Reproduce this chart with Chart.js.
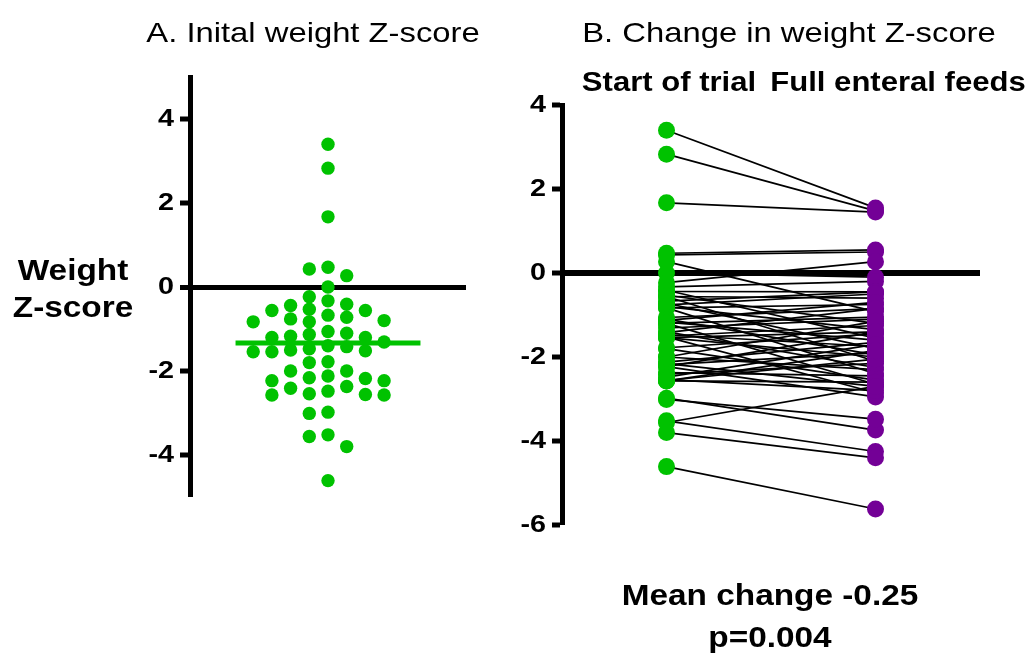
<!DOCTYPE html>
<html>
<head>
<meta charset="utf-8">
<script src="https://cdn.jsdelivr.net/npm/chart.js@4.4.1/dist/chart.umd.min.js"></script>
<style>
    body { margin: 0; background: #fff; width: 1035px; height: 660px; overflow: hidden; position: relative;
           font-family: "Liberation Sans", Arial, sans-serif; }
    canvas { position: absolute; top: 0; }
    #chartA { left: 0; }
    #chartB { left: 480px; }
    .lbl { position: absolute; white-space: nowrap; line-height: 1; color: #000;
           transform: translate(-50%, -50%) scaleX(1.15); }
    .title { font-size: 28.5px; }
    .bold { font-weight: bold; font-size: 29px; }
    .col { font-weight: bold; font-size: 27px; }
</style>
</head>
<body>
<canvas id="chartA" width="480" height="660"></canvas>
<canvas id="chartB" width="555" height="660"></canvas>

<div class="lbl title" style="left:313px; top:32px;">A. Inital weight Z-score</div>
<div class="lbl title" style="left:789px; top:32px;">B. Change in weight Z-score</div>
<div class="lbl bold" style="left:73px; top:270px;">Weight</div>
<div class="lbl bold" style="left:73px; top:307px;">Z-score</div>
<div class="lbl col" style="left:669px; top:82px;">Start of trial</div>
<div class="lbl col" style="left:898px; top:82px;">Full enteral feeds</div>
<div class="lbl bold" style="left:770px; top:595px;">Mean change -0.25</div>
<div class="lbl bold" style="left:770px; top:637px;">p=0.004</div>

<script>
// Weight Z-score of each infant at the start of the trial
const initialZ = [3.40, 2.83, 1.67, 0.47, 0.43, 0.27, 0.00, -0.23, -0.33, -0.41, -0.44, -0.53, -0.56, -0.56,
    -0.67, -0.72, -0.76, -0.80, -0.83, -0.83, -1.06, -1.10, -1.13, -1.17, -1.20, -1.20, -1.31, -1.40,
    -1.42, -1.47, -1.50, -1.52, -1.54, -1.54, -1.78, -1.80, -2.00, -2.00, -2.12, -2.16, -2.18, -2.23,
    -2.23, -2.37, -2.41, -2.48, -2.54, -2.56, -2.57, -2.57, -2.98, -3.01, -3.52, -3.56, -3.80, -4.61];
// Same infants at full enteral feeds (same order)
const fullFeedsZ = [1.55, 1.48, 1.45, 0.55, 0.50, -0.92, -0.10, 0.27, -0.20, -1.55, -0.45, -1.20, -0.60, -2.10,
    -0.45, -1.80, -0.50, -1.35, -0.75, -2.40, -0.85, -1.95, -0.70, -1.60, -1.05, -2.65, -1.10, -2.25,
    -0.85, -1.75, -1.25, -2.85, -1.40, -2.00, -1.45, -2.55, -1.15, -2.30, -1.65, -2.70, -1.90, -2.95,
    -1.40, -2.45, -2.15, -1.70, -2.80, -2.05, -2.60, -1.85, -3.74, -3.48, -4.25, -2.70, -4.40, -5.62];
const ticksA = [-4, -2, 0, 2, 4];
const ticksB = [-6, -4, -2, 0, 2, 4];

const GREEN = '#00c200';
const PURPLE = '#730096';
const TICK_STRETCH = 1.25;   // numbers in the original are drawn wide

// simple beeswarm: columns of dots, one column step at a time
function beeswarm(values, pxPerUnit, gapPx) {
    const cols = {};
    return values.map(v => {
        for (let k = 0; ; k++) {
            const off = k === 0 ? 0 : (k % 2 ? -(k + 1) / 2 : k / 2);
            const list = cols[off] || (cols[off] = []);
            if (list.every(u => Math.abs(u - v) * pxPerUnit >= gapPx)) {
                list.push(v);
                return off;
            }
        }
    });
}

const stretchedTicks = {
    id: 'stretchedTicks',
    afterDraw(chart) {
        const s = chart.scales.y;
        const ctx = chart.ctx;
        ctx.save();
        ctx.font = 'bold 23px "Liberation Sans", Arial, sans-serif';
        ctx.fillStyle = '#000';
        ctx.textAlign = 'right';
        ctx.textBaseline = 'middle';
        s.ticks.forEach(t => {
            ctx.save();
            ctx.translate(s.right - 16, s.getPixelForValue(t.value) + 1);
            ctx.scale(TICK_STRETCH, 1);
            ctx.fillText(String(t.value), 0, 0);
            ctx.restore();
        });
        ctx.restore();
    }
};

function yAxis(min, max, tickValues, width, zeroWidth) {
    return {
        min: min, max: max,
        afterBuildTicks: s => { s.ticks = tickValues.map(v => ({ value: v })); },
        afterFit: s => { s.width = width; },
        ticks: { color: 'rgba(0,0,0,0)', padding: 7, font: { size: 22, weight: 'bold' } },
        grid: {
            drawOnChartArea: true, drawTicks: true, tickLength: 10, tickWidth: 5, tickColor: '#000',
            color: c => (c.tick && c.tick.value === 0 ? '#000' : 'rgba(0,0,0,0)'),
            lineWidth: c => (c.tick && c.tick.value === 0 ? zeroWidth : 0)
        },
        border: { display: true, width: 5, color: '#000' }
    };
}

const baseOptions = {
    responsive: false,
    animation: false,
    events: [],
    plugins: { legend: { display: false }, tooltip: { enabled: false } }
};

// Panel A
const colStep = 18.7 / 138;  // one beeswarm column in x units
const offsets = beeswarm(initialZ, 42, 12.5);
const meanA = initialZ.reduce((a, b) => a + b, 0) / initialZ.length;

new Chart(document.getElementById('chartA'), {
    type: 'scatter',
    data: {
        datasets: [
            {
                data: [{ x: -0.67, y: meanA }, { x: 0.67, y: meanA }],
                showLine: true, borderColor: GREEN, borderWidth: 5, pointRadius: 0, order: 0
            },
            {
                data: initialZ.map((v, i) => ({ x: offsets[i] * colStep, y: v })),
                backgroundColor: GREEN, borderWidth: 0, pointRadius: 6.7, order: 1
            }
        ]
    },
    options: Object.assign({}, baseOptions, {
        layout: { padding: { top: 77, bottom: 163, left: 0, right: 14 } },
        scales: {
            x: { type: 'linear', min: -1, max: 1, display: false },
            y: yAxis(-5, 5, ticksA, 190, 5)
        }
    }),
    plugins: [stretchedTicks]
});

// Panel B
const pairLines = initialZ.map((v, i) => ({
    data: [{ x: 0, y: v }, { x: 1, y: fullFeedsZ[i] }],
    showLine: true, borderColor: '#000', borderWidth: 1.7, pointRadius: 0, order: 2
}));

new Chart(document.getElementById('chartB'), {
    type: 'scatter',
    data: {
        datasets: [
            { data: initialZ.map(v => ({ x: 0, y: v })), backgroundColor: GREEN, borderWidth: 0, pointRadius: 8.5, order: 0 },
            { data: fullFeedsZ.map(v => ({ x: 1, y: v })), backgroundColor: PURPLE, borderWidth: 0, pointRadius: 8.5, order: 0 }
        ].concat(pairLines)
    },
    options: Object.assign({}, baseOptions, {
        layout: { padding: { top: 105, bottom: 135, left: 0, right: 55 } },
        scales: {
            x: { type: 'linear', min: -0.5, max: 1.5, display: false },
            y: yAxis(-6, 4, ticksB, 82, 6)
        }
    }),
    plugins: [stretchedTicks]
});
</script>
</body>
</html>
